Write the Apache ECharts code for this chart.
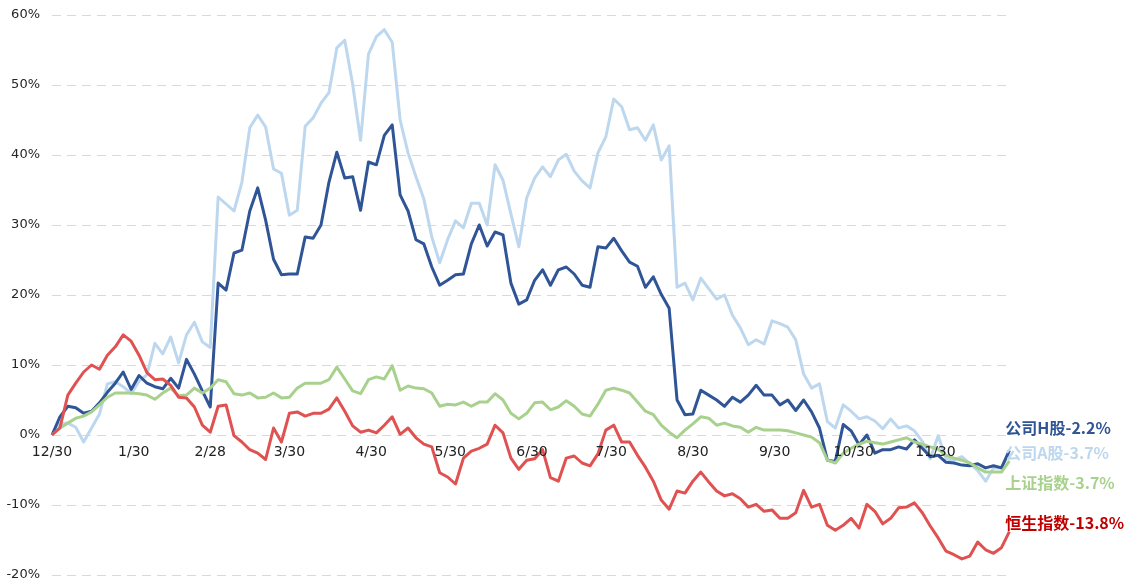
<!DOCTYPE html>
<html>
<head>
<meta charset="utf-8">
<script src="https://cdn.jsdelivr.net/npm/echarts@6/dist/echarts.min.js"></script>
<style>
html,body{margin:0;padding:0;background:#fff;}
#chart{width:1134px;height:584px;}
</style>
</head>
<body>
<div id="chart"></div>
<script>
// x axis: days since 12/30, tick labels at month marks
const tickDays = [0, 31, 60, 90, 121, 151, 182, 212, 243, 274, 304, 335];
const tickLabels = ['12/30', '1/30', '2/28', '3/30', '4/30', '5/30', '6/30', '7/30', '8/30', '9/30', '10/30', '11/30'];
const totalDays = 364;
const sampleStep = 3; // values below are read every 3 calendar days

const seriesNames = ['公司H股', '公司A股', '上证指数', '恒生指数'];
const endTexts = ['-2.2%', '-3.7%', '-3.7%', '-13.8%'];

const hValues = [
  0, 2.6, 4.1, 3.9, 3.1, 3.4, 4.6, 6.1, 7.4, 9.0,
  6.5, 8.5, 7.4, 6.9, 6.6, 8.1, 6.7, 10.8, 8.7, 6.3,
  4.0, 21.7, 20.7, 26.0, 26.4, 32.0, 35.3, 30.7, 25.1, 22.9,
  23.0, 23.0, 28.3, 28.1, 30.0, 36.1, 40.4, 36.7, 36.9, 32.1,
  39.0, 38.6, 42.8, 44.3, 34.3, 32.0, 27.9, 27.3, 24.0, 21.4,
  22.1, 22.9, 23.0, 27.3, 30.0, 27.0, 29.0, 28.6, 21.7, 18.7,
  19.3, 22.1, 23.6, 21.4, 23.6, 24.0, 23.0, 21.4, 21.1, 26.9,
  26.7, 28.1, 26.3, 24.7, 24.1, 21.1, 22.6, 20.1, 18.1, 5.0,
  2.9, 3.0, 6.4, 5.7, 5.0, 4.1, 5.4, 4.7, 5.7, 7.1,
  5.7, 5.7, 4.3, 5.0, 3.5, 5.0, 3.3, 1.0, -3.6, -3.8,
  1.5, 0.6, -1.4, 0, -2.6, -2.1, -2.1, -1.7, -2.0, -0.7,
  -1.9, -3.1, -2.9, -3.9, -4.0, -4.3, -4.4, -4.1, -4.7, -4.4,
  -4.7, -2.2
];
const aValues = [
  0, 1.6, 1.7, 1.1, -1.0, 1.0, 3.0, 7.3, 7.6, 6.9,
  5.9, 7.7, 8.6, 13.1, 11.6, 14.0, 10.3, 14.3, 16.1, 13.3,
  12.5, 34.0, 33.0, 32.0, 36.1, 43.9, 45.7, 44.0, 38.0, 37.4,
  31.4, 32.1, 44.1, 45.3, 47.4, 48.9, 55.3, 56.4, 50.1, 42.1,
  54.4, 56.9, 57.9, 56.1, 45.0, 40.3, 36.9, 33.7, 28.3, 24.6,
  27.9, 30.6, 29.6, 33.1, 33.1, 30.0, 38.6, 36.4, 31.6, 26.9,
  33.9, 36.7, 38.3, 36.9, 39.3, 40.1, 37.7, 36.3, 35.3, 40.3,
  42.6, 48.0, 46.9, 43.6, 43.9, 42.1, 44.3, 39.3, 41.3, 21.1,
  21.7, 19.3, 22.4, 20.9, 19.4, 20.0, 17.1, 15.3, 12.9, 13.6,
  13.0, 16.3, 15.9, 15.4, 13.6, 8.7, 6.7, 7.3, 1.9, 1.0,
  4.3, 3.4, 2.3, 2.6, 2.0, 0.9, 2.3, 1.0, 1.3, 0.6,
  -0.9, -3.4, -0.1, -3.4, -3.6, -3.1, -4.1, -5.1, -6.6, -4.7,
  -4.7, -2.5
];
const sValues = [
  0, 1.0, 1.7, 2.4, 2.7, 3.3, 4.3, 5.4, 6.0, 6.0,
  6.0, 5.9, 5.7, 5.1, 6.0, 6.7, 5.6, 5.7, 6.7, 6.0,
  6.7, 7.9, 7.6, 5.9, 5.7, 6.0, 5.3, 5.4, 6.0, 5.3,
  5.4, 6.7, 7.4, 7.4, 7.4, 7.9, 9.7, 8.0, 6.3, 5.9,
  7.9, 8.3, 8.0, 9.9, 6.4, 7.0, 6.7, 6.6, 6.0, 4.1,
  4.4, 4.3, 4.7, 4.1, 4.7, 4.7, 5.9, 5.0, 3.1, 2.3,
  3.1, 4.6, 4.7, 3.6, 4.0, 4.9, 4.1, 3.0, 2.7, 4.4,
  6.4, 6.7, 6.4, 6.0, 4.7, 3.4, 2.9, 1.4, 0.4, -0.4,
  0.7, 1.6, 2.6, 2.4, 1.4, 1.7, 1.3, 1.1, 0.4, 1.1,
  0.7, 0.7, 0.7, 0.6, 0.3, 0, -0.3, -1.1, -3.6, -4.0,
  -2.6, -1.9, -1.3, -0.9, -1.1, -1.3, -1.0, -0.7, -0.4, -1.0,
  -1.3, -1.7, -2.0, -2.9, -3.3, -3.6, -4.0, -4.7, -5.3, -5.3,
  -5.3, -3.7
];
const rValues = [
  0, 1.0, 5.7, 7.4, 9.0, 10.0, 9.4, 11.4, 12.6, 14.3,
  13.4, 11.4, 8.9, 7.9, 8.0, 7.1, 5.4, 5.3, 4.0, 1.4,
  0.4, 4.1, 4.3, -0.1, -1.0, -2.1, -2.6, -3.5, 1.0, -1.0,
  3.1, 3.3, 2.7, 3.1, 3.1, 3.7, 5.3, 3.4, 1.3, 0.4,
  0.7, 0.3, 1.4, 2.6, 0.1, 1.0, -0.4, -1.3, -1.7, -5.4,
  -6.0, -7.0, -3.3, -2.3, -1.9, -1.3, 1.4, 0.3, -3.3, -4.9,
  -3.6, -3.4, -2.1, -6.1, -6.6, -3.3, -3.0, -4.0, -4.4, -2.7,
  0.7, 1.4, -1.0, -1.0, -2.9, -4.6, -6.6, -9.3, -10.6, -8.0,
  -8.3, -6.6, -5.3, -6.7, -8.0, -8.7, -8.4, -9.1, -10.3, -9.9,
  -10.9, -10.7, -11.9, -11.9, -11.1, -7.9, -10.3, -9.9, -12.9, -13.6,
  -12.9, -11.9, -13.3, -9.9, -10.9, -12.7, -11.9, -10.4, -10.3, -9.7,
  -11.1, -13.0, -14.7, -16.6, -17.1, -17.7, -17.3, -15.3, -16.4, -16.9,
  -16.1, -13.8
];

const yTickMin = -20, yTickMax = 60, yTickStep = 10;

// build category axis (one slot per calendar day)
const categories = [];
for (let d = 0; d <= totalDays; d++) {
  const i = tickDays.indexOf(d);
  categories.push(i >= 0 ? tickLabels[i] : '');
}
function toPairs(vals) {
  return vals.map((v, i) => [i * sampleStep, v]);
}

const colors = ['#2f5597', '#bdd7ee', '#a9d18e', '#e05252'];
const labelColors = ['#2f5597', '#bdd7ee', '#a9d18e', '#c00000'];
const labelOffsets = [[-4, -22], [-4, 0], [-4, 22], [-4, -9]];
const valueSets = [hValues, aValues, sValues, rValues];
const drawOrder = [1, 0, 2, 3];

const series = drawOrder.map(idx => ({
  name: seriesNames[idx],
  type: 'line',
  data: toPairs(valueSets[idx]),
  symbol: 'none',
  smooth: false,
  lineStyle: { color: colors[idx], width: 3, join: 'round' },
  itemStyle: { color: colors[idx] },
  endLabel: {
    show: true,
    distance: 0,
    align: 'left',
    verticalAlign: 'middle',
    offset: labelOffsets[idx],
    formatter: () => seriesNames[idx] + endTexts[idx],
    color: labelColors[idx],
    fontSize: 16,
    fontWeight: 'bold',
    fontFamily: '"Noto Sans CJK SC", "DejaVu Sans", sans-serif'
  },
  z: 2
}));

const gridTop = 15, gridBottom = 9, chartHeight = 584;
// place the category axis at the 0% level (ECharts offsets a bottom axis from the grid's bottom edge)
const plotHeight = chartHeight - gridTop - gridBottom;
const zeroOffset = -plotHeight * (0 - yTickMin) / (yTickMax - yTickMin);

const chart = echarts.init(document.getElementById('chart'), null, { renderer: 'canvas' });
chart.setOption({
  animation: false,
  backgroundColor: '#ffffff',
  grid: { left: 52, right: 122, top: gridTop, bottom: gridBottom, containLabel: false, outerBoundsMode: 'none' },
  xAxis: {
    type: 'category',
    data: categories,
    boundaryGap: false,
    offset: zeroOffset,
    z: 10,
    axisLine: { show: false, onZero: false },
    axisTick: { show: false },
    splitLine: { show: false },
    axisLabel: {
      interval: (index, value) => value !== '',
      margin: 10,
      color: '#222222',
      fontSize: 14,
      fontFamily: '"DejaVu Sans", Verdana, sans-serif'
    }
  },
  yAxis: {
    type: 'value',
    min: yTickMin,
    max: yTickMax,
    interval: yTickStep,
    axisLine: { show: false },
    axisTick: { show: false },
    axisLabel: {
      formatter: '{value}%',
      margin: 12,
      color: '#262626',
      fontSize: 13,
      fontFamily: '"DejaVu Sans", Verdana, sans-serif'
    },
    splitLine: { show: true, lineStyle: { color: '#d9d9d9', width: 1, type: [9, 6] } }
  },
  series: series
});
</script>
</body>
</html>
